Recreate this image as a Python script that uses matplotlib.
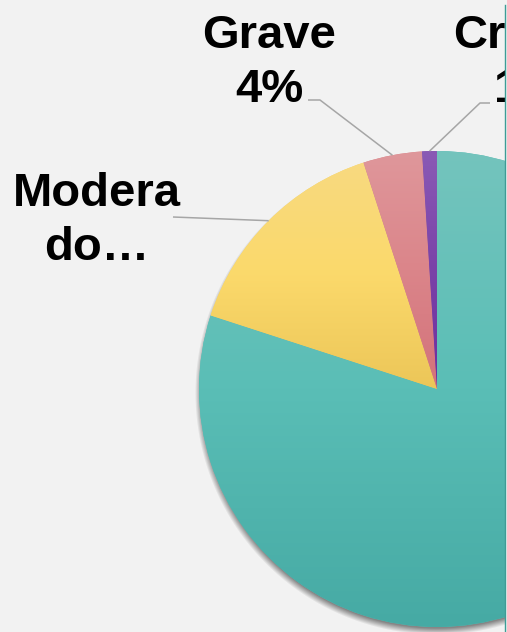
import numpy as np
import matplotlib
matplotlib.use('Agg')
import matplotlib.pyplot as plt
from matplotlib.colors import LinearSegmentedColormap
from matplotlib.patches import Rectangle

categories = ['Leve', 'Moderado', 'Grave', 'Crítico']
values = [80, 15, 4, 1]
label_texts = ['Leve\n80%', 'Modera\ndo…', 'Grave\n4%', 'Crítico\n1%']

# gradient stops (top, middle, bottom) per slice
grad_colors = [
    ['#74c4bd', '#5abeb6', '#46aaa4'],
    ['#f8da80', '#fbd96b', '#ecc658'],
    ['#df979b', '#db858a', '#d3727a'],
    ['#8a5ab5', '#7a42a8', '#6e2e9e'],
]
base_colors = [c[1] for c in grad_colors]

W, H = 507, 632
BG = '#f2f2f2'
fig = plt.figure(figsize=(W / 100, H / 100), dpi=100)
fig.patch.set_facecolor(BG)
ax = fig.add_axes([0, 0, 1, 1])
ax.set_facecolor(BG)

cx, cy, R = 437, H - 389, 238

# soft shadow
yy, xx = np.mgrid[0:H, 0:W]
d = np.hypot(xx + 0.5 - cx, (H - yy - 0.5) - (cy - 4))
a = np.clip(1 - (d - (R - 3)) / 7.0, 0, 1) * 0.45
shadow = np.zeros((H, W, 4))
shadow[..., 3] = a
ax.imshow(shadow, extent=(0, W, 0, H), origin='upper', zorder=0.5, aspect='auto')

wedges, _ = ax.pie(values, startangle=90, counterclock=False, center=(cx, cy),
                   radius=R, colors=base_colors, wedgeprops=dict(linewidth=0))

for w, stops in zip(wedges, grad_colors):
    w.set_zorder(1)
    ext = w.get_path().get_extents()
    cmap = LinearSegmentedColormap.from_list('g', stops)
    grad = np.linspace(0, 1, 256).reshape(-1, 1)
    im = ax.imshow(grad, cmap=cmap, extent=(ext.x0, ext.x1, ext.y0, ext.y1),
                   origin='upper', aspect='auto', zorder=1.1, interpolation='bilinear')
    im.set_clip_path(w)

# labels (pixel positions, top-left origin): center x, last-line baseline y
label_pos = [(700, 360), (97, 260), (269, 102), (528, 102)]
leader_knees = [[], [(173, 217)], [(308, 100), (320, 100)], [(490, 103), (480, 103)]]

for w, txt, (lx, ly), knees in zip(wedges, label_texts, label_pos, leader_knees):
    ax.text(lx, H - ly, txt, ha='center', va='baseline', fontsize=34,
            fontweight='bold', family=['Liberation Sans', 'DejaVu Sans'],
            color='black', linespacing=1.3, zorder=3)
    if knees:
        th = np.deg2rad((w.theta1 + w.theta2) / 2)
        px, py = cx + R * np.cos(th), cy + R * np.sin(th)
        xs = [k[0] for k in knees] + [px]
        ys = [H - k[1] for k in knees] + [py]
        ax.plot(xs, ys, color='#a6a6a6', lw=1.1, zorder=2, solid_capstyle='butt')

ax.set_xlim(0, W)
ax.set_ylim(0, H)
ax.axis('off')

# right edge clip and border line
ax.add_patch(Rectangle((505.5, -5), 10, H + 10, facecolor=BG, edgecolor='none', zorder=10))
ax.plot([505, 505], [0, H - 5], color='#3e9c96', lw=1.0, zorder=11)

fig.savefig('out.png', dpi=100, facecolor=BG)
